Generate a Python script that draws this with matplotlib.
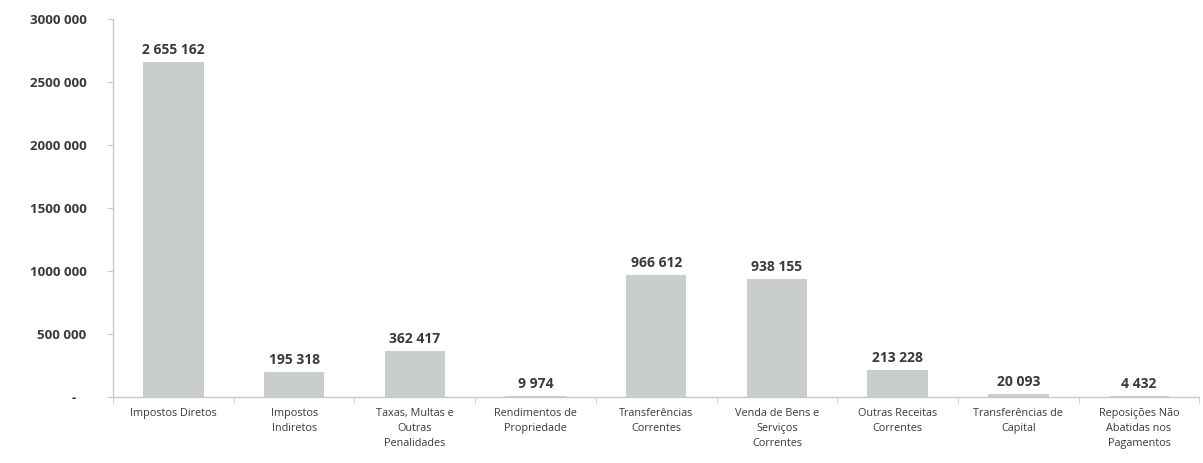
import matplotlib.pyplot as plt
import numpy as np

# ── Data ─────────────────────────────────────────────────────────────────────
categories = [
    "Impostos Diretos",
    "Impostos\nIndiretos",
    "Taxas, Multas e\nOutras\nPenalidades",
    "Rendimentos de\nPropriedade",
    "Transferências\nCorrentes",
    "Venda de Bens e\nServiços\nCorrentes",
    "Outras Receitas\nCorrentes",
    "Transferências de\nCapital",
    "Reposições Não\nAbatidas nos\nPagamentos",
]
values = [2655162, 195318, 362417, 9974, 966612, 938155, 213228, 20093, 4432]
y_ticks = [0, 500000, 1000000, 1500000, 2000000, 2500000, 3000000]
y_tick_labels = ["-   ", "500 000", "1000 000", "1500 000", "2000 000", "2500 000", "3000 000"]

BAR_COLOR = "#c9cdcb"
TEXT_COLOR = "#3a3a3a"
AXIS_COLOR = "#c8c8c8"

plt.rcParams["font.family"] = ["Open Sans", "DejaVu Sans"]


def fmt_space(v):
    return f"{v:,}".replace(",", " ")


fig = plt.figure(figsize=(12.03, 4.63), dpi=100)
ax = fig.add_axes([0.094, 0.1425, 0.903, 0.8165])

x = np.arange(len(categories))
ax.bar(x, values, width=0.5, color=BAR_COLOR, zorder=2)

for xi, v in zip(x, values):
    ax.text(xi, v + 40000, fmt_space(v), ha="center", va="bottom",
            fontsize=10, fontweight="bold", color=TEXT_COLOR)

ax.set_xlim(-0.5, len(categories) - 0.5)
ax.set_ylim(0, 3000000)

ax.set_yticks(y_ticks)
ax.set_yticklabels(y_tick_labels, fontsize=9.5, fontweight="bold", color=TEXT_COLOR)
ax.tick_params(axis="y", length=4, color=AXIS_COLOR, pad=15)

# category labels centred, tick marks between categories
ax.set_xticks(x)
ax.set_xticklabels(categories, fontsize=7.8, color=TEXT_COLOR, linespacing=1.5,
                   va="top")
ax.tick_params(axis="x", length=0, pad=8)
ax.set_xticks(np.arange(-0.5, len(categories)), minor=True)
ax.tick_params(axis="x", which="minor", length=4, color=AXIS_COLOR)

for side in ("top", "right"):
    ax.spines[side].set_visible(False)
for side in ("left", "bottom"):
    ax.spines[side].set_color(AXIS_COLOR)
    ax.spines[side].set_linewidth(1.0)

fig.savefig("out.png", dpi=100)
